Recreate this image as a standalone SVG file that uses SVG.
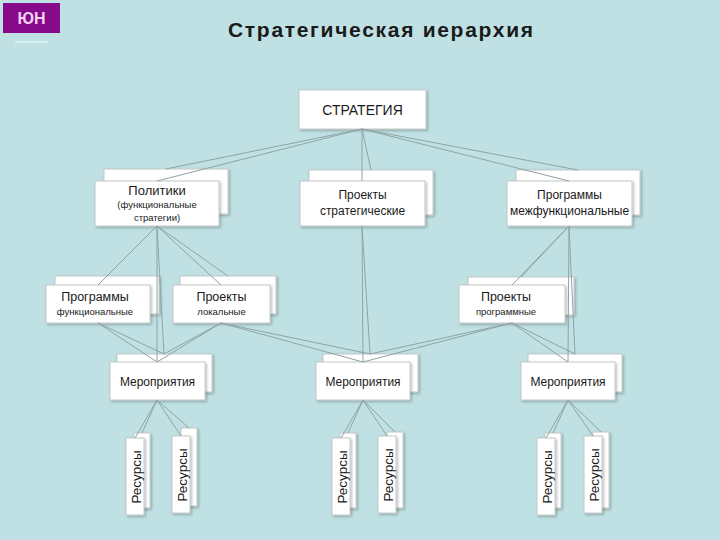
<svg xmlns="http://www.w3.org/2000/svg" width="720" height="540" viewBox="0 0 720 540">
<defs>
<filter id="sh" x="-10%" y="-10%" width="130%" height="130%">
<feDropShadow dx="1.5" dy="1.5" stdDeviation="1" flood-color="#000" flood-opacity="0.25"/>
</filter>
<style>
.b{fill:#fff;stroke:#c4c8c8;stroke-width:1;filter:url(#sh)}
.t{font-family:"Liberation Sans",Arial,sans-serif;fill:#1a1a1a;text-anchor:middle}
.c line{stroke:#8fa3a5;stroke-width:1}
</style>
</defs>
<rect width="720" height="540" fill="#bfe1e4"/>
<g id="logo">
<rect x="3" y="3" width="57" height="30" fill="#870a8a"/>
<text x="31.5" y="24" font-family="Liberation Sans,Arial,sans-serif" font-weight="bold" font-size="16" fill="#f4d2f4" text-anchor="middle">ЮН</text>
<line x1="15" y1="42" x2="48" y2="42" stroke="#d6f0f2" stroke-width="2"/>
</g>
<text id="title" x="228" y="37" font-family="Liberation Sans,Arial,sans-serif" font-weight="bold" font-size="21" letter-spacing="1.7" fill="#1a1a1a">Стратегическая иерархия</text>

<g id="strategy">
<rect class="b" x="299" y="90" width="127" height="39"/>
<text class="t" x="362.5" y="115" font-size="14">СТРАТЕГИЯ</text>
</g>

<g id="politiki">
<rect class="b" x="104" y="169" width="124" height="45"/>
<rect class="b" x="95" y="181" width="124" height="45"/>
<text class="t" x="157" y="195" font-size="13">Политики</text>
<text class="t" x="157" y="208" font-size="9.5">(функциональные</text>
<text class="t" x="157" y="221" font-size="9.5">стратегии)</text>
</g>

<g id="proekty-strat">
<rect class="b" x="309" y="170" width="124" height="45"/>
<rect class="b" x="300" y="181" width="125" height="45"/>
<text class="t" x="362.5" y="199" font-size="12">Проекты</text>
<text class="t" x="362.5" y="215" font-size="12">стратегические</text>
</g>

<g id="progr-mezh">
<rect class="b" x="516" y="170" width="124" height="45"/>
<rect class="b" x="507" y="181" width="125" height="45"/>
<text class="t" x="569.5" y="199" font-size="12">Программы</text>
<text class="t" x="569.5" y="215" font-size="12">межфункциональные</text>
</g>

<g id="progr-func">
<rect class="b" x="55" y="276" width="104" height="38"/>
<rect class="b" x="46" y="285" width="104" height="38"/>
<text class="t" x="95" y="301" font-size="12.5">Программы</text>
<text class="t" x="95" y="315" font-size="9.5">функциональные</text>
</g>

<g id="proekty-lok">
<rect class="b" x="180" y="276" width="96" height="38"/>
<rect class="b" x="173" y="285" width="97" height="38"/>
<text class="t" x="221.5" y="301" font-size="12.5">Проекты</text>
<text class="t" x="221.5" y="315" font-size="9.5">локальные</text>
</g>

<g id="proekty-progr">
<rect class="b" x="468" y="277" width="106" height="38"/>
<rect class="b" x="459" y="285" width="106" height="38"/>
<text class="t" x="506" y="301" font-size="12.5">Проекты</text>
<text class="t" x="506" y="315" font-size="9.5">программные</text>
</g>

<g id="meropr-1">
<rect class="b" x="117" y="354" width="95" height="38"/>
<rect class="b" x="110" y="362" width="95" height="38"/>
<text class="t" x="157.5" y="386" font-size="12">Мероприятия</text>
</g>
<g id="meropr-2">
<rect class="b" x="323" y="354" width="95" height="38"/>
<rect class="b" x="316" y="362" width="94" height="38"/>
<text class="t" x="363" y="386" font-size="12">Мероприятия</text>
</g>
<g id="meropr-3">
<rect class="b" x="528" y="354" width="94" height="38"/>
<rect class="b" x="521" y="362" width="94" height="38"/>
<text class="t" x="568" y="386" font-size="12">Мероприятия</text>
</g>

<g id="res-1">
<rect class="b" x="134" y="433" width="16" height="75"/>
<rect class="b" x="126" y="438" width="18" height="77"/>
<text class="t" font-size="13.5" dominant-baseline="central" transform="translate(136 477) rotate(-90)">Ресурсы</text>
</g>
<g id="res-2">
<rect class="b" x="181" y="428" width="16" height="78"/>
<rect class="b" x="172" y="436" width="18" height="77"/>
<text class="t" font-size="13.5" dominant-baseline="central" transform="translate(182 475) rotate(-90)">Ресурсы</text>
</g>
<g id="res-3">
<rect class="b" x="340" y="433" width="16" height="75"/>
<rect class="b" x="332" y="438" width="18" height="77"/>
<text class="t" font-size="13.5" dominant-baseline="central" transform="translate(342 477) rotate(-90)">Ресурсы</text>
</g>
<g id="res-4">
<rect class="b" x="387" y="432" width="16" height="76"/>
<rect class="b" x="378" y="436" width="18" height="77"/>
<text class="t" font-size="13.5" dominant-baseline="central" transform="translate(388 475) rotate(-90)">Ресурсы</text>
</g>
<g id="res-5">
<rect class="b" x="545" y="433" width="16" height="75"/>
<rect class="b" x="537" y="438" width="18" height="77"/>
<text class="t" font-size="13.5" dominant-baseline="central" transform="translate(547 477) rotate(-90)">Ресурсы</text>
</g>
<g id="res-6">
<rect class="b" x="593" y="432" width="16" height="76"/>
<rect class="b" x="584" y="436" width="18" height="77"/>
<text class="t" font-size="13.5" dominant-baseline="central" transform="translate(594 475) rotate(-90)">Ресурсы</text>
</g>

<g class="c" id="connectors">
<line x1="362" y1="129" x2="166" y2="169"/>
<line x1="362" y1="129" x2="157" y2="181"/>
<line x1="362" y1="129" x2="371" y2="170"/>
<line x1="362" y1="129" x2="362" y2="181"/>
<line x1="362" y1="129" x2="578" y2="170"/>
<line x1="362" y1="129" x2="569" y2="181"/>

<line x1="157" y1="226" x2="107" y2="276"/>
<line x1="157" y1="226" x2="98" y2="285"/>
<line x1="157" y1="226" x2="228" y2="276"/>
<line x1="157" y1="226" x2="221" y2="285"/>
<line x1="157" y1="226" x2="164" y2="354"/>
<line x1="157" y1="226" x2="157" y2="362"/>

<line x1="362" y1="226" x2="370" y2="354"/>
<line x1="362" y1="226" x2="363" y2="362"/>

<line x1="569" y1="226" x2="521" y2="277"/>
<line x1="569" y1="226" x2="512" y2="285"/>
<line x1="569" y1="226" x2="575" y2="354"/>
<line x1="569" y1="226" x2="568" y2="362"/>

<line x1="98" y1="323" x2="164" y2="354"/>
<line x1="98" y1="323" x2="157" y2="362"/>
<line x1="221" y1="323" x2="164" y2="354"/>
<line x1="221" y1="323" x2="157" y2="362"/>
<line x1="221" y1="323" x2="370" y2="354"/>
<line x1="221" y1="323" x2="363" y2="362"/>
<line x1="512" y1="323" x2="370" y2="354"/>
<line x1="512" y1="323" x2="363" y2="362"/>
<line x1="512" y1="323" x2="575" y2="354"/>
<line x1="512" y1="323" x2="568" y2="362"/>

<line x1="157" y1="400" x2="142" y2="433"/>
<line x1="157" y1="400" x2="135" y2="438"/>
<line x1="157" y1="400" x2="189" y2="428"/>
<line x1="157" y1="400" x2="181" y2="436"/>
<line x1="363" y1="400" x2="348" y2="433"/>
<line x1="363" y1="400" x2="341" y2="438"/>
<line x1="363" y1="400" x2="395" y2="432"/>
<line x1="363" y1="400" x2="387" y2="436"/>
<line x1="568" y1="400" x2="553" y2="433"/>
<line x1="568" y1="400" x2="546" y2="438"/>
<line x1="568" y1="400" x2="601" y2="432"/>
<line x1="568" y1="400" x2="593" y2="436"/>
</g>
</svg>
